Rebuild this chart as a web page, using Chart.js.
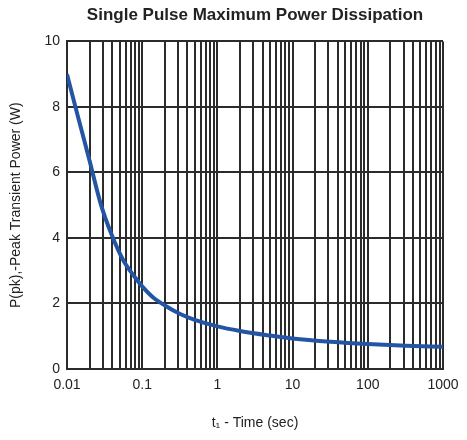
<!DOCTYPE html>
<html>
<head>
<meta charset="utf-8">
<script src="https://cdn.jsdelivr.net/npm/chart.js@4.4.1/dist/chart.umd.min.js"></script>
<style>
    html, body { margin: 0; padding: 0; background: #fff; }
    #wrap { width: 467px; height: 440px; }
</style>
</head>
<body>
<div id="wrap"><canvas id="powerChart" width="467" height="440"></canvas></div>
<script>
// Valores (tempo em segundos, potência em W)
const timeSec = [0.01, 0.014, 0.02, 0.028, 0.04, 0.056, 0.08, 0.1, 0.14, 0.2, 0.32, 0.5, 1, 2, 5, 10, 32, 100, 320, 1000];
const peakPower = [9.0, 7.7, 6.35, 5.05, 4.05, 3.32, 2.8, 2.52, 2.18, 1.94, 1.68, 1.5, 1.3, 1.16, 1.02, 0.93, 0.83, 0.76, 0.71, 0.68];

// Décadas do eixo x (com rótulo) e ticks do eixo y
const xDecades = [0.01, 0.1, 1, 10, 100, 1000];
const yTicks = [0, 2, 4, 6, 8, 10];

// linhas de grade verticais: 1..9 em cada década
const xGridValues = [];
for (let i = 0; i < xDecades.length - 1; i++) {
    for (let k = 1; k <= 9; k++) {
        xGridValues.push(+(xDecades[i] * k).toPrecision(6));
    }
}
xGridValues.push(xDecades[xDecades.length - 1]);

const gridColor = '#2b2b2b';
const textColor = '#222';

const ctx = document.getElementById('powerChart').getContext('2d');
new Chart(ctx, {
    type: 'line',
    data: {
        datasets: [{
            data: timeSec.map((t, i) => ({ x: t, y: peakPower[i] })),
            borderColor: '#2455a5',
            borderWidth: 4,
            pointRadius: 0,
            fill: false,
            cubicInterpolationMode: 'monotone'
        }]
    },
    options: {
        responsive: false,
        animation: false,
        layout: { padding: { top: 3, right: 24, left: 0, bottom: 0 } },
        plugins: {
            legend: { display: false },
            tooltip: { enabled: false },
            title: {
                display: true,
                fullSize: false,
                text: 'Single Pulse Maximum Power Dissipation',
                color: textColor,
                font: { family: 'Liberation Sans, Arial, sans-serif', size: 17, weight: 'bold' },
                padding: { top: 2, bottom: 16 }
            }
        },
        scales: {
            x: {
                type: 'logarithmic',
                min: 0.01,
                max: 1000,
                afterBuildTicks: scale => {
                    scale.ticks = xGridValues.map(v => ({ value: v }));
                },
                afterFit: scale => { scale.height = 71; },
                ticks: {
                    autoSkip: false,
                    maxRotation: 0,
                    padding: 8,
                    color: textColor,
                    font: { family: 'Liberation Sans, Arial, sans-serif', size: 14 },
                    callback: v => xDecades.includes(v) ? String(v) : ''
                },
                grid: { color: gridColor, lineWidth: 2, drawTicks: false },
                border: { color: gridColor, width: 2 },
                title: {
                    display: true,
                    text: 't\u2081 - Time (sec)',
                    color: textColor,
                    font: { family: 'Liberation Sans, Arial, sans-serif', size: 14 },
                    padding: { top: 0, bottom: 8 }
                }
            },
            y: {
                min: 0,
                max: 10,
                afterBuildTicks: scale => {
                    scale.ticks = yTicks.map(v => ({ value: v }));
                },
                afterFit: scale => { scale.width = 67; },
                ticks: {
                    padding: 7,
                    color: textColor,
                    font: { family: 'Liberation Sans, Arial, sans-serif', size: 14 }
                },
                grid: { color: gridColor, lineWidth: 2, drawTicks: false },
                border: { color: gridColor, width: 2 },
                title: {
                    display: true,
                    text: 'P(pk),-Peak Transient Power (W)',
                    color: textColor,
                    font: { family: 'Liberation Sans, Arial, sans-serif', size: 14 },
                    padding: { top: 8, bottom: 0 }
                }
            }
        }
    }
});
</script>
</body>
</html>
